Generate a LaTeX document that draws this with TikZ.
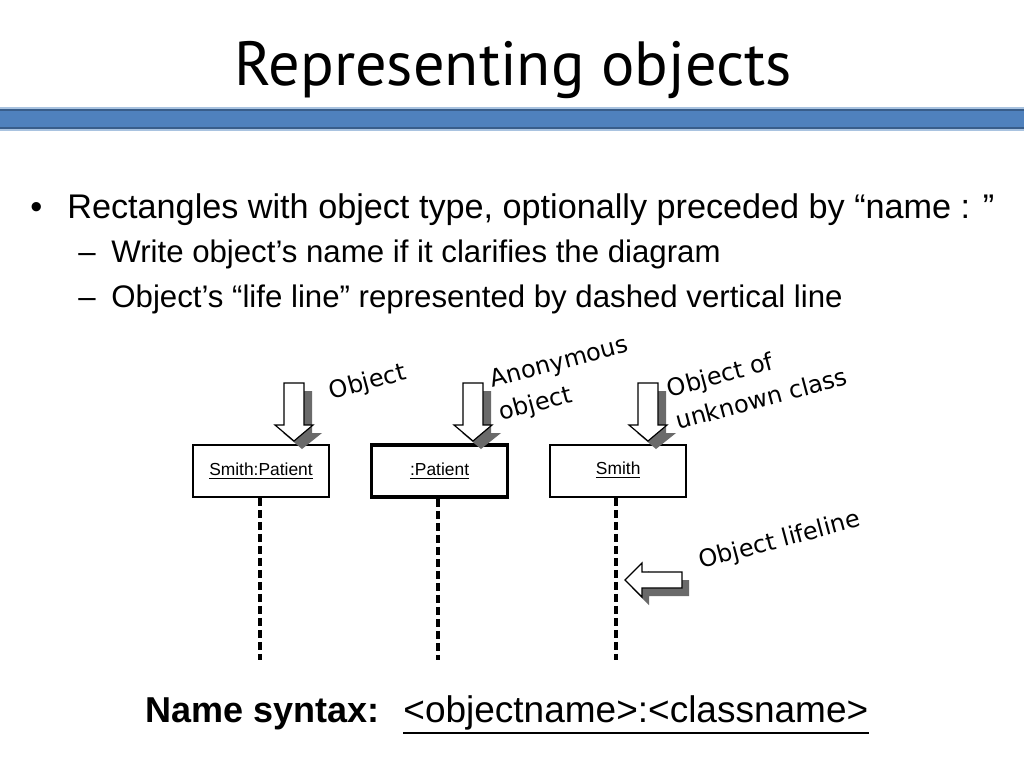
\documentclass[tikz,border=0pt]{standalone}
\usepackage{fontspec}
\setmainfont{Liberation Sans}
\newfontfamily\titlefont{PT Sans}
\newfontfamily\handfont{DejaVu Sans}
\usetikzlibrary{positioning}

\definecolor{barblue}{HTML}{4F81BD}
\definecolor{barline}{HTML}{385D8A}
\definecolor{barlight}{HTML}{A9C3E0}
\definecolor{shadowgray}{HTML}{6A6A6A}

\tikzset{
	objbox/.style={draw, line width=0.8pt, minimum width=68pt, minimum height=26pt, inner sep=0pt, font=\fontsize{8.7}{10}\selectfont},
	anonbox/.style={objbox, line width=1.8pt},
	lifeline/.style={line width=2pt, dash pattern=on 4pt off 2pt},
	hand/.style={font=\handfont\fontsize{12}{17}\selectfont, rotate=15, align=left, inner sep=0pt},
	txt/.style={inner sep=0pt, anchor=base west},
	arrbody/.style={draw, fill=white, line width=0.6pt, line join=miter},
	arrshadow/.style={fill=shadowgray},
	downarr/.pic={
		\fill[arrshadow] (8,8) -- (-11,-8) -- (-2,-8) -- (-2,-50) -- (18,-50) -- (18,-8) -- (28,-8) -- cycle;
		\draw[arrbody] (0,0) -- (-19,-16) -- (-10,-16) -- (-10,-58) -- (10,-58) -- (10,-16) -- (19,-16) -- cycle;
	},
	leftarr/.pic={
		\fill[arrshadow] (7,8) -- (24,-9) -- (24,0) -- (64,0) -- (64,16) -- (24,16) -- (24,25) -- cycle;
		\draw[arrbody] (0,0) -- (17,-17) -- (17,-8) -- (57,-8) -- (57,8) -- (17,8) -- (17,17) -- cycle;
	}
}

\begin{document}
\begin{tikzpicture}[x=0.5pt, y=-0.5pt]
	\useasboundingbox (0,0) rectangle (1024,768);
	\fill[white] (0,0) rectangle (1024,768);

	% title and bar
	\node[anchor=base, inner sep=0pt, font=\titlefont\fontsize{31.2}{36}\selectfont] (title) at (513,85) {Representing objects};
	\draw[barlight, line width=0.8pt] (-2,108) rectangle (1026,130);
	\draw[barline, fill=barblue, line width=0.8pt] (-2,110) rectangle (1026,128);

	% bullets
	\node[txt, font=\fontsize{17.1}{20}\selectfont] (dot) at (30,218) {•};
	\node[txt, font=\fontsize{17.1}{20}\selectfont] (line1) at (67,218) {Rectangles with object type, optionally preceded by “name : ”};
	\node[txt, font=\fontsize{15.6}{18}\selectfont] (dash1) at (78,262) {–};
	\node[txt, font=\fontsize{15.6}{18}\selectfont] (line2) at (111,262) {Write object’s name if it clarifies the diagram};
	\node[txt, font=\fontsize{15.6}{18}\selectfont] (dash2) at (78,307) {–};
	\node[txt, font=\fontsize{15.6}{18}\selectfont] (line3) at (111,307) {Object’s “life line” represented by dashed vertical line};

	% objects
	\node[objbox] (smith) at (261,471) {\underline{Smith:Patient}};
	\node[anonbox, right=20pt of smith] (anon) {\underline{:Patient}};
	\node[objbox, right=20pt of anon] (unknown) {\raisebox{2.5pt}{\underline{Smith}}};

	% lifelines
	\coordinate (smithend) at (260,660);
	\coordinate (anonend) at (438,660);
	\coordinate (unknownend) at (616,660);
	\draw[lifeline] (smith.south -| smithend) -- (smithend);
	\draw[lifeline] (anon.south -| anonend) -- (anonend);
	\draw[lifeline] (unknown.south -| unknownend) -- (unknownend);

	% pointers
	\pic at (294,441) {downarr};
	\pic at (473,441) {downarr};
	\pic at (648,441) {downarr};
	\pic at (625,580) {leftarr};

	% notes
	\node[hand] (objnote) at (368,383) {Object};
	\node[hand] (anonnote) at (564,380) {Anonymous\\object};
	\node[hand] (unknownnote) at (757,382) {Object of\\unknown class};
	\node[hand] (lifenote) at (780,541) {Object lifeline};

	% syntax
	\node[txt, font=\bfseries\fontsize{18}{21}\selectfont] (syntaxkey) at (145,722) {Name syntax:};
	\node[txt, font=\fontsize{18.5}{22}\selectfont] (syntaxval) at (403,722) {<objectname>:<classname>};
	\draw[line width=1.2pt] ([yshift=-5.5pt]syntaxval.base west) -- ([yshift=-5.5pt]syntaxval.base east);
\end{tikzpicture}
\end{document}
